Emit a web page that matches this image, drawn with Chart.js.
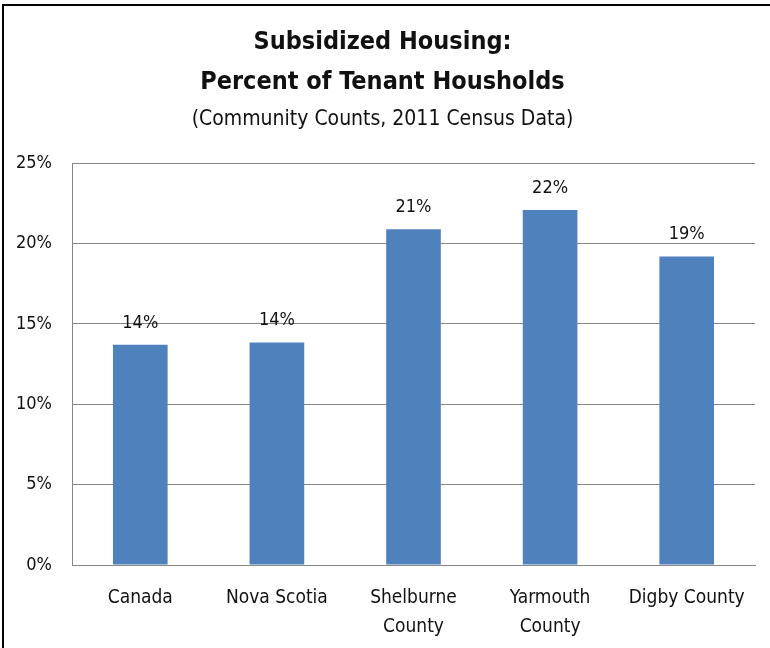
<!DOCTYPE html>
<html>
<head>
<meta charset="utf-8">
<script src="https://cdn.jsdelivr.net/npm/chart.js@4.4.1/dist/chart.umd.min.js"></script>
<style>
  html, body { margin: 0; padding: 0; background: #fff; }
  #frame {
    position: absolute; left: 2px; top: 4px;
    width: 800px; height: 700px;
    border: 2px solid #000;
  }
  #wrap { position: absolute; left: 0; top: 0; width: 770px; height: 648px; }
</style>
</head>
<body>
<div id="frame"></div>
<div id="wrap"><canvas id="myChart" width="770" height="648"></canvas></div>
<script>
  const categories = ["Canada", "Nova Scotia", ["Shelburne", "County"], ["Yarmouth", "County"], "Digby County"];
  const values = [13.7, 13.85, 20.9, 22.1, 19.2];
  const tickLabels = ["0%", "5%", "10%", "15%", "20%", "25%"];

  const fontFamily = "'Liberation Sans Narrow', 'DejaVu Sans Condensed', 'Liberation Sans', sans-serif";
  const textColor = "#111";

  // value labels above bars
  const barLabels = {
    id: "barLabels",
    afterDatasetsDraw(chart) {
      const ctx = chart.ctx;
      const meta = chart.getDatasetMeta(0);
      ctx.save();
      ctx.font = "18px " + fontFamily;
      ctx.fillStyle = textColor;
      ctx.textAlign = "center";
      ctx.textBaseline = "bottom";
      meta.data.forEach((bar, i) => {
        ctx.fillText(Math.round(values[i]) + "%", bar.x, bar.y - 13);
      });
      ctx.restore();
    },
  };

  const ctx = document.getElementById("myChart");
  const myChart = new Chart(ctx, {
    type: "bar",
    data: {
      labels: categories,
      datasets: [
        {
          data: values,
          backgroundColor: "#4F81BD",
          borderWidth: 0,
          categoryPercentage: 1,
          barPercentage: 0.4,
        },
      ],
    },
    options: {
      responsive: false,
      animation: false,
      layout: { padding: { left: 10, right: 15, top: 0, bottom: 0 } },
      plugins: {
        legend: { display: false },
        tooltip: { enabled: false },
        title: {
          display: true,
          text: ["Subsidized Housing:", "Percent of Tenant Housholds"],
          color: textColor,
          font: { family: fontFamily, size: 25, weight: "bold", lineHeight: 1.6 },
          padding: { top: 22, bottom: 4 },
        },
        subtitle: {
          display: true,
          text: "(Community Counts, 2011 Census Data)",
          color: textColor,
          font: { family: fontFamily, size: 21, lineHeight: 1.3 },
          padding: { top: 0, bottom: 30 },
        },
      },
      scales: {
        x: {
          grid: { display: false, drawTicks: false },
          border: { color: "#868686", width: 1 },
          ticks: {
            color: textColor,
            font: { family: fontFamily, size: 19, lineHeight: 1.55 },
            padding: 18,
            maxRotation: 0,
            autoSkip: false,
          },
          afterFit: (scale) => { scale.height = 83; },
        },
        y: {
          min: 0,
          max: 25,
          grid: { color: "#868686", drawTicks: false },
          border: { color: "#868686", width: 1 },
          ticks: {
            stepSize: 5,
            color: textColor,
            font: { family: fontFamily, size: 18 },
            padding: 20,
            callback: (v) => tickLabels[v / 5],
          },
          afterFit: (scale) => { scale.width = 62; },
        },
      },
    },
    plugins: [barLabels],
  });
</script>
</body>
</html>
